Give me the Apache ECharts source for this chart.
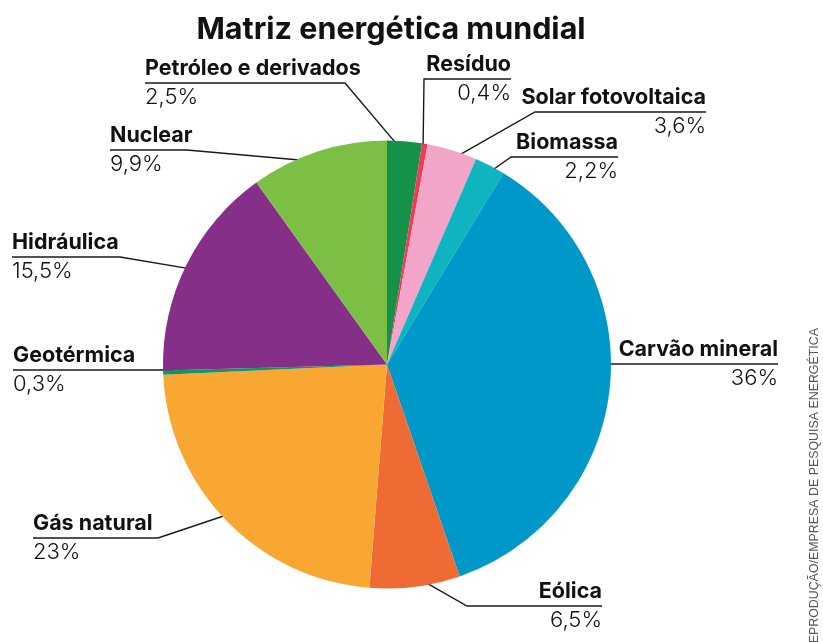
<!DOCTYPE html>
<html>
<head>
<meta charset="utf-8">
<title>Matriz energética mundial</title>
<script src="https://cdn.jsdelivr.net/npm/echarts@6/dist/echarts.min.js"></script>
<style>
  html, body { margin: 0; padding: 0; background: #fff; }
  #chart { width: 823px; height: 642px; }
</style>
</head>
<body>
<div id="chart"></div>
<script>
// Fontes de energia, no sentido horário a partir do topo
const categories = [
  'Petróleo e derivados', 'Resíduo', 'Solar fotovoltaica', 'Biomassa',
  'Carvão mineral', 'Eólica', 'Gás natural', 'Geotérmica', 'Hidráulica', 'Nuclear'
];
// Participação de cada fonte (%)
const shares = [2.5, 0.4, 3.6, 2.2, 36, 6.5, 23, 0.3, 15.5, 9.9];
const sliceColors = [
  '#15924a', '#ee3b58', '#f3a5c9', '#0fb4c0', '#0098c8',
  '#f06b34', '#f8a732', '#129560', '#852f89', '#7bbf45'
];

// Geometria da pizza
const CX = 387, CY = 364.5, R = 224;

// Posição de cada rótulo: alinhamento, borda do texto, altura do sublinhado
// e ponto do sublinhado onde a linha de chamada se conecta.
const labelSpots = [
  { align: 'left',  x: 145, uy: 83,  near: 345 },
  { align: 'right', x: 511, uy: 79,  near: 424 },
  { align: 'right', x: 706, uy: 112, near: 535 },
  { align: 'right', x: 618, uy: 157, near: 511 },
  { align: 'right', x: 778, uy: 364, near: 597, straight: true },
  { align: 'right', x: 602, uy: 606, near: 467 },
  { align: 'left',  x: 33,  uy: 538, near: 158 },
  { align: 'left',  x: 13,  uy: 370, near: 173 },
  { align: 'left',  x: 12,  uy: 257, near: 120 },
  { align: 'left',  x: 110, uy: 150, near: 187 }
];

const fmtShare = v => String(v).replace('.', ',') + '%';

// Ângulo médio de cada fatia (radianos, a partir do topo, sentido horário)
const total = shares.reduce((a, b) => a + b, 0);
const midAngles = [];
let acc = 0;
shares.forEach(v => {
  midAngles.push(((acc + v / 2) / total) * Math.PI * 2);
  acc += v;
});

const chart = echarts.init(document.getElementById('chart'), null, { renderer: 'canvas' });

chart.setOption({
  animation: false,
  backgroundColor: '#ffffff',
  title: {
    text: 'Matriz energética mundial',
    left: 386,
    textAlign: 'center',
    top: 9,
    textStyle: {
      fontFamily: 'Inter, Roboto, sans-serif',
      fontWeight: 700,
      fontSize: 30.5,
      color: '#111111'
    }
  },
  graphic: [{
    type: 'text',
    x: 815,
    y: 328,
    rotation: Math.PI / 2,
    style: {
      text: 'REPRODUÇÃO/EMPRESA DE PESQUISA ENERGÉTICA',
      align: 'right',
      verticalAlign: 'middle',
      fontFamily: 'Liberation Sans, Arial, sans-serif',
      fontSize: 12.4,
      fill: '#555555'
    }
  }],
  series: [{
    type: 'pie',
    center: [CX, CY],
    radius: R,
    startAngle: 90,
    clockwise: true,
    avoidLabelOverlap: false,
    silent: true,
    itemStyle: { borderWidth: 0 },
    emphasis: { disabled: true },
    data: categories.map((name, i) => ({
      name,
      value: shares[i],
      itemStyle: { color: sliceColors[i] }
    })),
    label: {
      show: true,
      position: 'outside',
      formatter: p => '{n|' + p.name + '}\n{v|' + fmtShare(p.value) + '}',
      rich: {
        n: {
          fontFamily: 'Inter, Roboto, sans-serif',
          fontWeight: 700,
          fontSize: 21.5,
          lineHeight: 28,
          color: '#111111'
        },
        v: {
          fontFamily: 'Inter, Roboto, sans-serif',
          fontWeight: 300,
          fontSize: 22,
          lineHeight: 28,
          color: '#111111'
        }
      }
    },
    labelLine: {
      show: true,
      lineStyle: { color: '#1a1a1a', width: 1.4 }
    },
    labelLayout: params => {
      const i = params.dataIndex;
      const s = labelSpots[i];
      const a = midAngles[i];
      const start = s.straight
        ? [s.near, s.uy]
        : [CX + 0.95 * R * Math.sin(a), CY - 0.95 * R * Math.cos(a)];
      return {
        x: s.x,
        y: s.uy,
        align: s.align,
        verticalAlign: 'middle',
        labelLinePoints: [start, [s.near, s.uy], [s.x, s.uy]]
      };
    }
  }]
});
</script>
</body>
</html>
